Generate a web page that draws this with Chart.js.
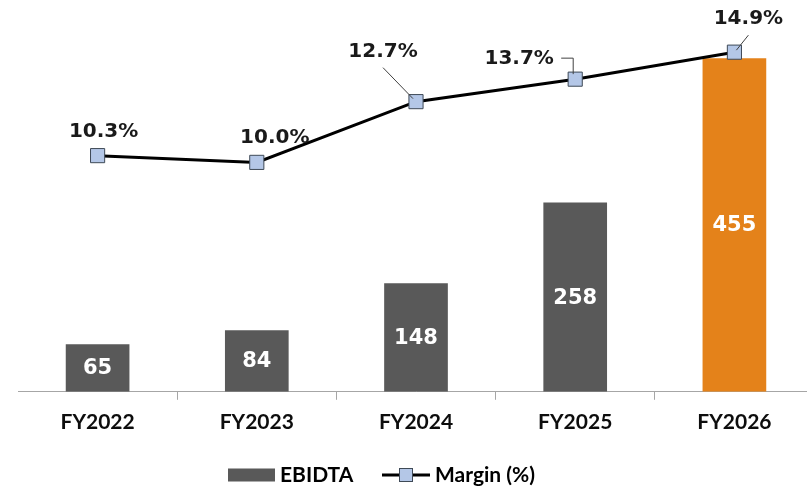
<!DOCTYPE html>
<html>
<head>
<meta charset="utf-8">
<script src="https://cdn.jsdelivr.net/npm/chart.js@4.4.1/dist/chart.umd.min.js"></script>
<style>
    html, body { margin: 0; padding: 0; background: #fff; overflow: hidden; }
    .wrap { position: relative; width: 832px; height: 489px; }
</style>
</head>
<body>
<div class="wrap"><canvas id="ebitdaChart"></canvas></div>
<script>
// Dữ liệu biểu đồ
const categories = ['FY2022', 'FY2023', 'FY2024', 'FY2025', 'FY2026'];
const ebitda = [65, 84, 148, 258, 455];
const margin = [10.3, 10.0, 12.7, 13.7, 14.9];
const seriesNames = ['EBIDTA', 'Margin (%)'];

const GRAY = '#595959';
const ORANGE = '#E4821A';
const MARKER_FILL = '#B4C7E7';
const MARKER_BORDER = '#3F4A57';

// vị trí nhãn % so với điểm (dx, dy) và đường dẫn
const labelOffsets = [
    { dx: 6, dy: -24 },
    { dx: 18, dy: -25 },
    { dx: -33, dy: -50, leader: [[-33, -34], [-3, -3]] },
    { dx: -56, dy: -20, leader: [[-14, -21], [-2, -21], [-2, -5]] },
    { dx: 14, dy: -33, leader: [[14, -17], [2, -2]] }
];

const labelPlugin = {
    id: 'labelPlugin',
    afterDatasetsDraw(chart) {
        const ctx = chart.ctx;
        ctx.save();
        // nhãn trong cột
        const barMeta = chart.getDatasetMeta(0);
        ctx.fillStyle = '#fff';
        ctx.font = 'bold 21px "DejaVu Sans"';
        ctx.textAlign = 'center';
        ctx.textBaseline = 'middle';
        barMeta.data.forEach((el, i) => {
            ctx.fillText(String(ebitda[i]), el.x, (el.y + el.base) / 2 + 1);
        });
        // nhãn % trên đường
        const lineMeta = chart.getDatasetMeta(1);
        lineMeta.data.forEach((p, i) => {
            const off = labelOffsets[i];
            if (off.leader) {
                ctx.strokeStyle = '#404040';
                ctx.lineWidth = 1;
                ctx.beginPath();
                off.leader.forEach((pt, k) => {
                    if (k === 0) ctx.moveTo(p.x + pt[0], p.y + pt[1]);
                    else ctx.lineTo(p.x + pt[0], p.y + pt[1]);
                });
                ctx.stroke();
            }
            ctx.fillStyle = '#1a1a1a';
            ctx.font = 'bold 20px "DejaVu Sans"';
            ctx.fillText(margin[i].toFixed(1) + '%', p.x + off.dx, p.y + off.dy);
        });
        ctx.restore();
    },
    afterDraw(chart) {
        // chú thích
        const ctx = chart.ctx;
        const y = 475;
        ctx.save();
        ctx.fillStyle = GRAY;
        ctx.fillRect(228, y - 6.5, 47, 13);
        ctx.fillStyle = '#000';
        ctx.font = 'bold 21px Lato';
        ctx.textAlign = 'left';
        ctx.textBaseline = 'middle';
        ctx.fillText(seriesNames[0], 280, y);
        ctx.strokeStyle = '#000';
        ctx.lineWidth = 3;
        ctx.beginPath();
        ctx.moveTo(382, y);
        ctx.lineTo(430, y);
        ctx.stroke();
        ctx.fillStyle = MARKER_FILL;
        ctx.fillRect(399, y - 7, 14, 14);
        ctx.strokeStyle = MARKER_BORDER;
        ctx.lineWidth = 1;
        ctx.strokeRect(399.5, y - 6.5, 13, 13);
        ctx.fillStyle = '#000';
        ctx.fillText(seriesNames[1], 435, y);
        ctx.restore();
    }
};

new Chart(document.getElementById('ebitdaChart'), {
    type: 'bar',
    data: {
        labels: categories,
        datasets: [{
            type: 'bar',
            label: seriesNames[0],
            data: ebitda,
            backgroundColor: ctx => ctx.dataIndex === categories.length - 1 ? ORANGE : GRAY,
            barPercentage: 0.4,
            categoryPercentage: 1,
            yAxisID: 'y',
            order: 1
        }, {
            type: 'line',
            label: seriesNames[1],
            data: margin,
            borderColor: '#000',
            borderWidth: 3,
            pointStyle: 'rect',
            pointRadius: 10,
            pointBackgroundColor: MARKER_FILL,
            pointBorderColor: MARKER_BORDER,
            pointBorderWidth: 1,
            tension: 0,
            yAxisID: 'y1',
            order: 0
        }]
    },
    options: {
        responsive: true,
        maintainAspectRatio: false,
        animation: false,
        layout: { padding: { top: 20, bottom: 44, left: 18, right: 18 } },
        plugins: {
            legend: { display: false },
            tooltip: { enabled: false }
        },
        scales: {
            x: {
                offset: true,
                grid: {
                    offset: true,
                    drawOnChartArea: false,
                    tickLength: 8,
                    color: c => (c.index === 0 || c.index >= categories.length) ? 'rgba(0,0,0,0)' : '#A6A6A6'
                },
                border: { color: '#A6A6A6', width: 1 },
                ticks: {
                    color: '#0d0d0d',
                    padding: 10,
                    font: { family: 'Lato', size: 21, weight: 'bold' }
                }
            },
            y: { display: false, min: 0, max: 507 },
            y1: { display: false, min: -0.2, max: 16.33 }
        }
    },
    plugins: [labelPlugin]
});
</script>
</body>
</html>
